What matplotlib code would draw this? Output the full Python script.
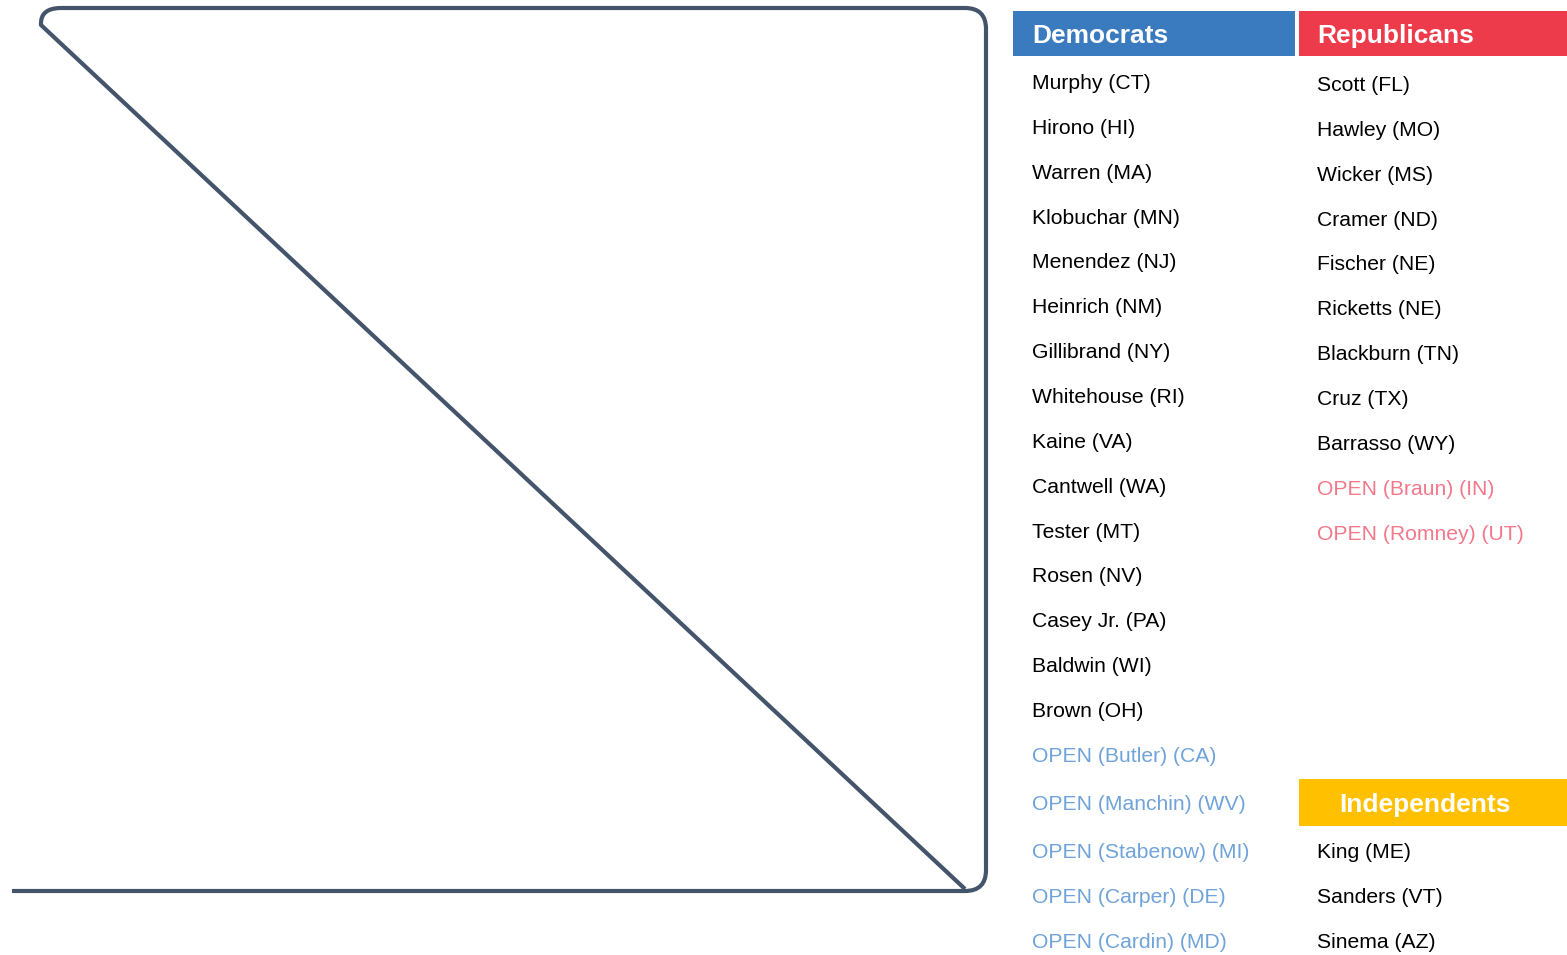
import matplotlib
matplotlib.use("Agg")
import matplotlib.pyplot as plt
from matplotlib.path import Path
from matplotlib.patches import PathPatch, Rectangle

plt.rcParams['font.family'] = ['Liberation Sans', 'DejaVu Sans']

dem_title = "Democrats"
rep_title = "Republicans"
ind_title = "Independents"

democrats = ["Murphy (CT)", "Hirono (HI)", "Warren (MA)", "Klobuchar (MN)", "Menendez (NJ)",
             "Heinrich (NM)", "Gillibrand (NY)", "Whitehouse (RI)", "Kaine (VA)", "Cantwell (WA)",
             "Tester (MT)", "Rosen (NV)", "Casey Jr. (PA)", "Baldwin (WI)", "Brown (OH)"]
democrats_open = ["OPEN (Butler) (CA)", "OPEN (Manchin) (WV)", "OPEN (Stabenow) (MI)",
                  "OPEN (Carper) (DE)", "OPEN (Cardin) (MD)"]
republicans = ["Scott (FL)", "Hawley (MO)", "Wicker (MS)", "Cramer (ND)", "Fischer (NE)",
               "Ricketts (NE)", "Blackburn (TN)", "Cruz (TX)", "Barrasso (WY)"]
republicans_open = ["OPEN (Braun) (IN)", "OPEN (Romney) (UT)"]
independents = ["King (ME)", "Sanders (VT)", "Sinema (AZ)"]

DEM_COLOR = "#3A7BBF"
REP_COLOR = "#EE3B4B"
IND_COLOR = "#FFC000"
DEM_OPEN = "#6FA3D9"
REP_OPEN = "#F2788A"
LINE = "#44546A"

W, H = 1567, 955
fig = plt.figure(figsize=(W / 100, H / 100), dpi=100)
ax = fig.add_axes([0, 0, 1, 1])
ax.set_xlim(0, W)
ax.set_ylim(H, 0)
ax.axis("off")

# left decorative shape
r = 21
xl, xr, yt, yb = 40, 986, 8, 891
verts = [(12, yb), (xr - r, yb), (xr, yb), (xr, yb - r), (xr, yt + r), (xr, yt), (xr - r, yt),
         (xl + r, yt), (xl, yt), (xl + 1, yt + r - 4), (xr - r, yb - 2)]
codes = [Path.MOVETO, Path.LINETO, Path.CURVE3, Path.CURVE3, Path.LINETO, Path.CURVE3, Path.CURVE3,
         Path.LINETO, Path.CURVE3, Path.CURVE3, Path.LINETO]
ax.add_patch(PathPatch(Path(verts, codes), fill=False, edgecolor=LINE, lw=3.0,
                       capstyle='butt', joinstyle='round'))

FS = 15.2
HFS = 19

def header(x0, x1, y0, y1, color, text, ha='left', tx=None):
    ax.add_patch(Rectangle((x0, y0), x1 - x0, y1 - y0, facecolor=color, edgecolor='none'))
    ax.text(tx, (y0 + y1) / 2 + 2.5, text, color='white', fontsize=HFS, fontweight='bold',
            ha=ha, va='center')

header(1013, 1295, 11, 56, DEM_COLOR, dem_title, tx=1032)
header(1299, 1567, 11, 56, REP_COLOR, rep_title, tx=1317)
header(1299, 1567, 779, 826, IND_COLOR, ind_title, ha='center', tx=1425)

step = 44.85
off = 1.5
dem_all = [(n, 'black') for n in democrats] + [(n, DEM_OPEN) for n in democrats_open]
for i, (name, c) in enumerate(dem_all):
    if i <= 15:
        y = 82 + i * step
    elif i == 16:
        y = 803
    else:
        y = 851 + (i - 17) * step
    ax.text(1032, y + off, name, color=c, fontsize=FS, ha='left', va='center')

rep_all = [(n, 'black') for n in republicans] + [(n, REP_OPEN) for n in republicans_open]
for i, (name, c) in enumerate(rep_all):
    ax.text(1317, 84 + i * step + off, name, color=c, fontsize=FS, ha='left', va='center')

for i, name in enumerate(independents):
    ax.text(1317, 851 + i * step + off, name, color='black', fontsize=FS, ha='left', va='center')

fig.savefig("out.png", dpi=100)
